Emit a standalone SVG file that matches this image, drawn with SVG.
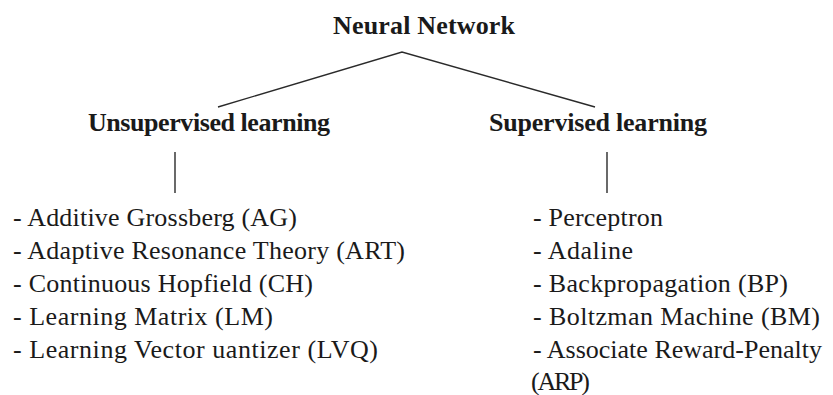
<svg xmlns="http://www.w3.org/2000/svg" width="833" height="395" viewBox="0 0 833 395">
  <style>
    text { font-family: "Liberation Serif", "Times New Roman", serif; fill: #1a1a1a; font-size: 26px; }
    .head { font-weight: bold; }
    .edge { stroke: #2a2a2a; stroke-width: 1.4; fill: none; }
  </style>
  <rect width="833" height="395" fill="#ffffff"/>

  <!-- connectors -->
  <g id="connectors">
    <polyline class="edge" points="218,107 402,52 595,107"/>
    <line class="edge" x1="175" y1="152" x2="175" y2="193"/>
    <line class="edge" x1="607" y1="152" x2="607" y2="193"/>
  </g>

  <!-- root -->
  <g id="neural-network">
    <text class="head" x="333" y="34" textLength="182">Neural Network</text>
  </g>

  <!-- branch: unsupervised -->
  <g id="unsupervised">
    <text class="head" x="88" y="131" textLength="242">Unsupervised learning</text>
  </g>
  <g id="unsupervised-list">
    <text x="13" y="226" textLength="284">- Additive Grossberg (AG)</text>
    <text x="13" y="259" textLength="392">- Adaptive Resonance Theory (ART)</text>
    <text x="13" y="292" textLength="300">- Continuous Hopfield (CH)</text>
    <text x="13" y="325" textLength="260">- Learning Matrix (LM)</text>
    <text x="13" y="358" textLength="365">- Learning Vector uantizer (LVQ)</text>
  </g>

  <!-- branch: supervised -->
  <g id="supervised">
    <text class="head" x="489" y="131" textLength="218">Supervised learning</text>
  </g>
  <g id="supervised-list">
    <text x="533" y="226" textLength="130">- Perceptron</text>
    <text x="533" y="259" textLength="100">- Adaline</text>
    <text x="533" y="292" textLength="255">- Backpropagation (BP)</text>
    <text x="533" y="325" textLength="287">- Boltzman Machine (BM)</text>
    <text x="533" y="358" textLength="289">- Associate Reward-Penalty</text>
    <text x="531" y="390" textLength="59">(ARP)</text>
  </g>
</svg>
